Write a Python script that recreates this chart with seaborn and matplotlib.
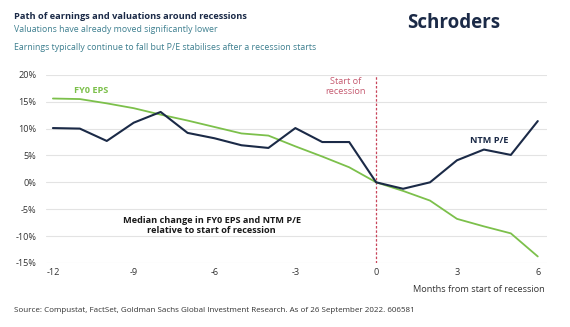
import matplotlib
matplotlib.use("Agg")
import matplotlib.pyplot as plt
import seaborn as sns
import pandas as pd

months = list(range(-12, 7))
ntm_pe = [10.1, 10.0, 7.7, 11.1, 13.1, 9.2, 8.2, 6.9, 6.4, 10.1, 7.5, 7.5, 0.0,
          -1.2, 0.0, 4.1, 6.1, 5.1, 11.4]
fy0_eps = [15.6, 15.5, 14.7, 13.8, 12.6, 11.5, 10.3, 9.1, 8.7, 6.7, 4.8, 2.8, 0.0,
           -1.6, -3.4, -6.8, -8.2, -9.5, -13.8]
x_ticks = [-12, -9, -6, -3, 0, 3, 6]
y_ticks = [-15, -10, -5, 0, 5, 10, 15, 20]

sns.set_theme(style="white")
plt.rcParams['font.family'] = ['Open Sans', 'DejaVu Sans']

NAVY = "#1b2a47"
GREEN = "#7cc04b"
TEAL = "#3d7f8f"
RED = "#c8455a"
GRID = "#e3e3e3"
TXT = "#333333"

df = pd.DataFrame({"month": months, "NTM P/E": ntm_pe, "FY0 EPS": fy0_eps})

fig = plt.figure(figsize=(5.7, 3.27), dpi=100)
ax = fig.add_axes([0.081, 0.196, 0.879, 0.575])

sns.lineplot(data=df, x="month", y="FY0 EPS", ax=ax, color=GREEN, lw=1.3)
sns.lineplot(data=df, x="month", y="NTM P/E", ax=ax, color=NAVY, lw=1.5)

ax.set_xlim(-12.25, 6.35)
ax.set_ylim(-15, 20)
ax.set_yticks(y_ticks)
ax.set_yticklabels([f"{v}%" for v in y_ticks], fontsize=6.6, color=TXT)
ax.set_xticks(x_ticks)
ax.set_xticklabels([str(v) for v in x_ticks], fontsize=6.6, color=TXT)
ax.tick_params(axis="y", length=0, pad=7)
ax.tick_params(axis="x", length=0, pad=4)
ax.grid(axis="y", color=GRID, lw=0.8)
ax.grid(axis="x", visible=False)
for s in ax.spines.values():
    s.set_visible(False)
ax.set_xlabel("")
ax.set_ylabel("")

ax.axvline(0, color=RED, lw=0.9, ls=(0, (2, 1.5)), zorder=1)

ax.text(-1.15, 17.8, "Start of\nrecession", color="#c55a70", fontsize=6.6,
        ha="center", va="center", linespacing=1.1)
ax.text(-11.2, 17.0, "FY0 EPS", color=GREEN, fontsize=6.6, fontweight="bold",
        ha="left", va="center")
ax.text(3.5, 7.8, "NTM P/E", color=NAVY, fontsize=6.6, fontweight="bold",
        ha="left", va="center")
ax.text(-6.1, -8.1, "Median change in FY0 EPS and NTM P/E\nrelative to start of recession",
        color="#1a1a1a", fontsize=6.6, fontweight="bold", ha="center", va="center",
        linespacing=1.15)

fig.text(545 / 570, 1 - 289 / 327, "Months from start of recession", fontsize=6.6,
         color=TXT, ha="right", va="center")

fig.text(14 / 570, 1 - 16.5 / 327, "Path of earnings and valuations around recessions",
         fontsize=6.7, fontweight="bold", color=NAVY, ha="left", va="center")
fig.text(14 / 570, 1 - 29 / 327, "Valuations have already moved significantly lower",
         fontsize=6.3, color=TEAL, ha="left", va="center")
fig.text(14 / 570, 1 - 48 / 327,
         "Earnings typically continue to fall but P/E stabilises after a recession starts",
         fontsize=6.3, color=TEAL, ha="left", va="center")
fig.text(500 / 570, 1 - 23 / 327, "Schroders", fontsize=13.5, fontweight="bold",
         color=NAVY, ha="right", va="center")
fig.text(14 / 570, 1 - 311 / 327,
         "Source: Compustat, FactSet, Goldman Sachs Global Investment Research. As of 26 September 2022. 606581",
         fontsize=5.8, color=TXT, ha="left", va="center")

fig.savefig("out.png", dpi=100, facecolor="white")
